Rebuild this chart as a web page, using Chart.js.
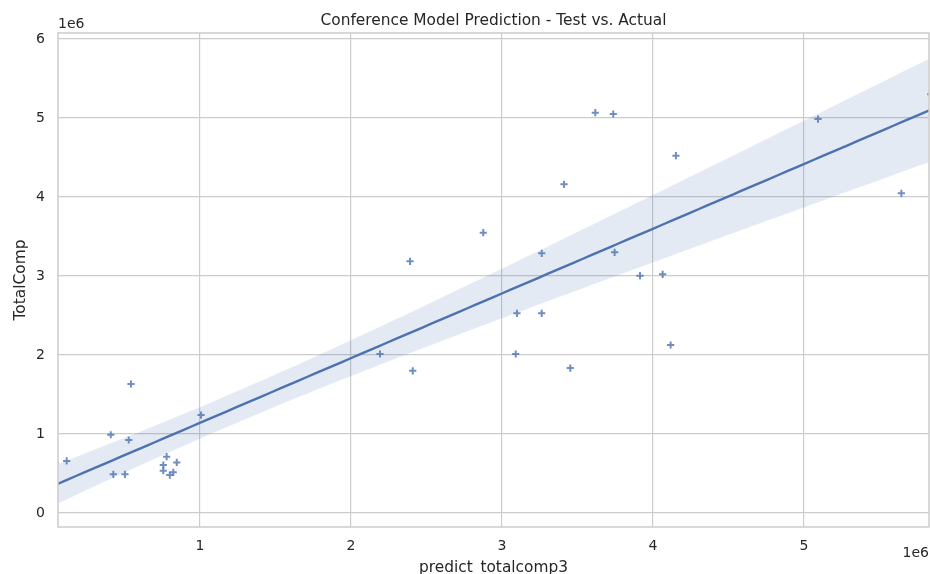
<!DOCTYPE html>
<html>
<head>
<meta charset="utf-8">
<title>Conference Model Prediction - Test vs. Actual</title>
<script src="https://cdn.jsdelivr.net/npm/chart.js@4/dist/chart.umd.min.js"></script>
<style>
  html, body { margin: 0; padding: 0; background: #ffffff; }
  #wrap { width: 930px; height: 574px; }
</style>
</head>
<body>
<div id="wrap"><canvas id="chart" width="930" height="574"></canvas></div>
<script>
// Model prediction (x) and actual total compensation (y) for the test set
const predictTotalcomp3 = [
  40000, 117000, 409000, 426000, 503000, 528000, 543000, 757000, 757000, 779000,
  800000, 823000, 846000, 1007000, 2192000, 2391000, 2409000, 2876000, 3091000, 3099000,
  3263000, 3263000, 3411000, 3452000, 3618000, 3737000, 3746000, 3914000, 4064000, 4117000,
  4152000, 5093000, 5645000, 5840000
];
const totalComp = [
  637000, 660000, 991000, 490000, 490000, 924000, 1633000, 608000, 535000, 713000,
  480000, 515000, 641000, 1240000, 2013000, 3186000, 1800000, 3548000, 2013000, 2528000,
  3287000, 2528000, 4160000, 1835000, 5067000, 5051000, 3300000, 3004000, 3021000, 2127000,
  4523000, 4987000, 4047000, 5300000
];

// Axis ticks and limits
const xTickValues = [1000000, 2000000, 3000000, 4000000, 5000000];
const yTickValues = [0, 1000000, 2000000, 3000000, 4000000, 5000000, 6000000];
const xLimits = [59600, 5828000];
const yLimits = [-177000, 6076000];

const BLUE = '#4c72b0';
const TEXT = '#262626';
const GRID = '#cccccc';
const FONT = "'DejaVu Sans', 'Liberation Sans', sans-serif";

// Ordinary least squares fit with a heteroscedasticity-robust 95% band
function fitRegression(xs, ys) {
  const n = xs.length;
  const xbar = xs.reduce((s, v) => s + v, 0) / n;
  const ybar = ys.reduce((s, v) => s + v, 0) / n;
  let sxx = 0, sxy = 0;
  for (let i = 0; i < n; i++) {
    sxx += (xs[i] - xbar) * (xs[i] - xbar);
    sxy += (xs[i] - xbar) * (ys[i] - ybar);
  }
  const slope = sxy / sxx;
  const intercept = ybar - slope * xbar;
  const resid = ys.map((y, i) => y - (intercept + slope * xs[i]));
  const hc1 = n / (n - 2);
  const predict = x => intercept + slope * x;
  const stdErr = x => {
    let v = 0;
    for (let i = 0; i < n; i++) {
      const w = 1 / n + (x - xbar) * (xs[i] - xbar) / sxx;
      v += (resid[i] * w) * (resid[i] * w);
    }
    return Math.sqrt(v * hc1);
  };
  return { predict, stdErr };
}

const model = fitRegression(predictTotalcomp3, totalComp);
const gridSteps = 100;
const span = xLimits[1] - xLimits[0];
const fitLine = [], bandLow = [], bandHigh = [];
for (let k = 0; k <= gridSteps; k++) {
  const x = xLimits[0] - 0.01 * span + (1.02 * span) * k / gridSteps;
  const y = model.predict(x);
  const h = 1.96 * model.stdErr(x);
  fitLine.push({ x, y });
  bandLow.push({ x, y: y - h });
  bandHigh.push({ x, y: y + h });
}
const points = predictTotalcomp3.map((x, i) => ({ x, y: totalComp[i] }));

// Frame, title, axis labels and offset text
const decorations = {
  id: 'decorations',
  afterDatasetsDraw(chart) {
    const { ctx, chartArea: a } = chart;
    ctx.save();
    ctx.strokeStyle = GRID;
    ctx.lineWidth = 1.5;
    ctx.strokeRect(a.left, a.top, a.right - a.left, a.bottom - a.top);
    ctx.restore();
  },
  afterDraw(chart) {
    const { ctx, chartArea: a } = chart;
    const cx = (a.left + a.right) / 2;
    const cy = (a.top + a.bottom) / 2;
    ctx.save();
    ctx.fillStyle = TEXT;
    ctx.textBaseline = 'alphabetic';

    ctx.font = `15.4px ${FONT}`;
    ctx.textAlign = 'center';
    ctx.fillText('Conference Model Prediction - Test vs. Actual', cx, 24.8);
    ctx.fillText('predict_totalcomp3', cx, 571.8);

    ctx.save();
    ctx.translate(24.8, cy);
    ctx.rotate(-Math.PI / 2);
    ctx.fillText('TotalComp', 0, 0);
    ctx.restore();

    ctx.font = `14px ${FONT}`;
    ctx.textAlign = 'left';
    ctx.fillText('1e6', a.left, 28);
    ctx.textAlign = 'right';
    ctx.fillText('1e6', a.right, 557.4);
    ctx.restore();
  }
};

const tickFont = { family: FONT, size: 14 };
const millions = v => String(Math.round(v / 1e6));

new Chart(document.getElementById('chart'), {
  type: 'scatter',
  data: {
    datasets: [
      {
        label: 'band-low', data: bandLow, showLine: true, pointRadius: 0,
        borderWidth: 0, borderColor: 'rgba(0,0,0,0)', fill: false, order: 2, clip: 0
      },
      {
        label: 'band-high', data: bandHigh, showLine: true, pointRadius: 0,
        borderWidth: 0, borderColor: 'rgba(0,0,0,0)', fill: '-1',
        backgroundColor: 'rgba(76,114,176,0.15)', order: 2, clip: 0
      },
      {
        label: 'fit', data: fitLine, showLine: true, pointRadius: 0,
        borderColor: BLUE, borderWidth: 2.4, fill: false, order: 1, clip: 0
      },
      {
        label: 'TotalComp', data: points, pointStyle: 'cross', pointRadius: 3.6,
        pointHoverRadius: 3.6, borderColor: 'rgba(76,114,176,0.8)',
        backgroundColor: 'rgba(76,114,176,0.8)', pointBorderWidth: 2,
        showLine: false, order: 3, clip: 0
      }
    ]
  },
  options: {
    responsive: false,
    animation: false,
    devicePixelRatio: 1,
    events: [],
    layout: { autoPadding: false, padding: { top: 33, right: 1, left: 0, bottom: 0 } },
    elements: { line: { tension: 0 } },
    plugins: {
      legend: { display: false },
      tooltip: { enabled: false },
      title: { display: false }
    },
    scales: {
      x: {
        type: 'linear',
        min: xLimits[0],
        max: xLimits[1],
        afterBuildTicks: s => { s.ticks = xTickValues.map(v => ({ value: v })); },
        afterFit: s => { s.height = 47; },
        ticks: {
          callback: millions, font: tickFont, color: TEXT, padding: 11,
          maxRotation: 0, autoSkip: false, includeBounds: false
        },
        grid: { color: GRID, lineWidth: 1.2, drawTicks: false },
        border: { display: false }
      },
      y: {
        type: 'linear',
        min: yLimits[0],
        max: yLimits[1],
        afterBuildTicks: s => { s.ticks = yTickValues.map(v => ({ value: v })); },
        afterFit: s => { s.width = 58; },
        ticks: {
          callback: millions, font: tickFont, color: TEXT, padding: 13,
          autoSkip: false, includeBounds: false
        },
        grid: { color: GRID, lineWidth: 1.2, drawTicks: false },
        border: { display: false }
      }
    }
  },
  plugins: [decorations]
});
</script>
</body>
</html>
